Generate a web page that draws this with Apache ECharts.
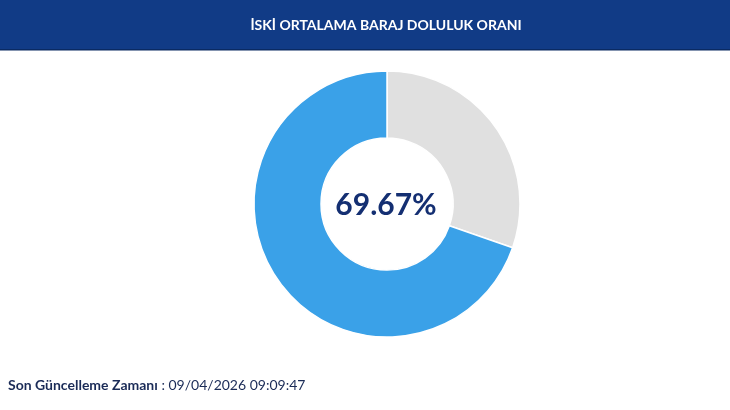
<!DOCTYPE html>
<html lang="tr">
  <head>
    <meta charset="UTF-8" />
    <title>İSKİ Baraj Doluluk</title>
    <script src="https://cdn.jsdelivr.net/npm/echarts@6/dist/echarts.min.js"></script>
    <style>
      html, body { margin: 0; padding: 0; background: #fff; }
      #main { width: 730px; height: 410px; }
    </style>
  </head>
  <body>
    <div id="main"></div>
    <script>
      const titleText = "İSKİ ORTALAMA BARAJ DOLULUK ORANI";
      const sliceNames = ["Boş", "Dolu"];
      const sliceValues = [30.33, 69.67];
      const sliceColors = ["#e0e0e0", "#3aa1e8"];
      const fillRate = "69.67%";
      const updateLabel = "Son Güncelleme Zamanı";
      const updateTime = "09/04/2026 09:09:47";

      const chart = echarts.init(document.getElementById("main"));
      chart.setOption({
        animation: false,
        graphic: [
          {
            type: "rect",
            shape: { x: 0, y: 0, width: 730, height: 50 },
            style: { fill: "#113b86" },
            z: 0,
          },
          {
            type: "rect",
            shape: { x: 0, y: 49, width: 730, height: 1.5 },
            style: { fill: "#0a2a63" },
            z: 0,
          },
          {
            type: "text",
            x: 386,
            y: 25,
            style: {
              text: titleText,
              fill: "#ffffff",
              font: "bold 14px Lato",
              align: "center",
              verticalAlign: "middle",
            },
            z: 10,
          },
          {
            type: "text",
            x: 386,
            y: 205,
            style: {
              text: fillRate,
              fill: "#142f72",
              font: "bold 30px Lato",
              align: "center",
              verticalAlign: "middle",
            },
            z: 10,
          },
          {
            type: "text",
            x: 8,
            y: 385,
            style: {
              text: "{b|" + updateLabel + "}{n| : " + updateTime + "}",
              verticalAlign: "middle",
              rich: {
                b: {
                  fill: "#1a2b57",
                  color: "#1a2b57",
                  font: "bold 14px Lato",
                  fontSize: 14,
                  fontWeight: "bold",
                  fontFamily: "Lato",
                },
                n: {
                  fill: "#1a2b57",
                  color: "#1a2b57",
                  fontSize: 14,
                  fontFamily: "Lato",
                },
              },
            },
            z: 10,
          },
        ],
        series: [
          {
            type: "pie",
            center: [387, 204],
            radius: [66, 133],
            startAngle: 90,
            clockwise: true,
            silent: true,
            label: { show: false },
            labelLine: { show: false },
            itemStyle: { borderColor: "#ffffff", borderWidth: 1.5 },
            data: sliceNames.map((name, i) => ({
              name,
              value: sliceValues[i],
              itemStyle: { color: sliceColors[i] },
            })),
          },
        ],
      });
    </script>
  </body>
</html>
